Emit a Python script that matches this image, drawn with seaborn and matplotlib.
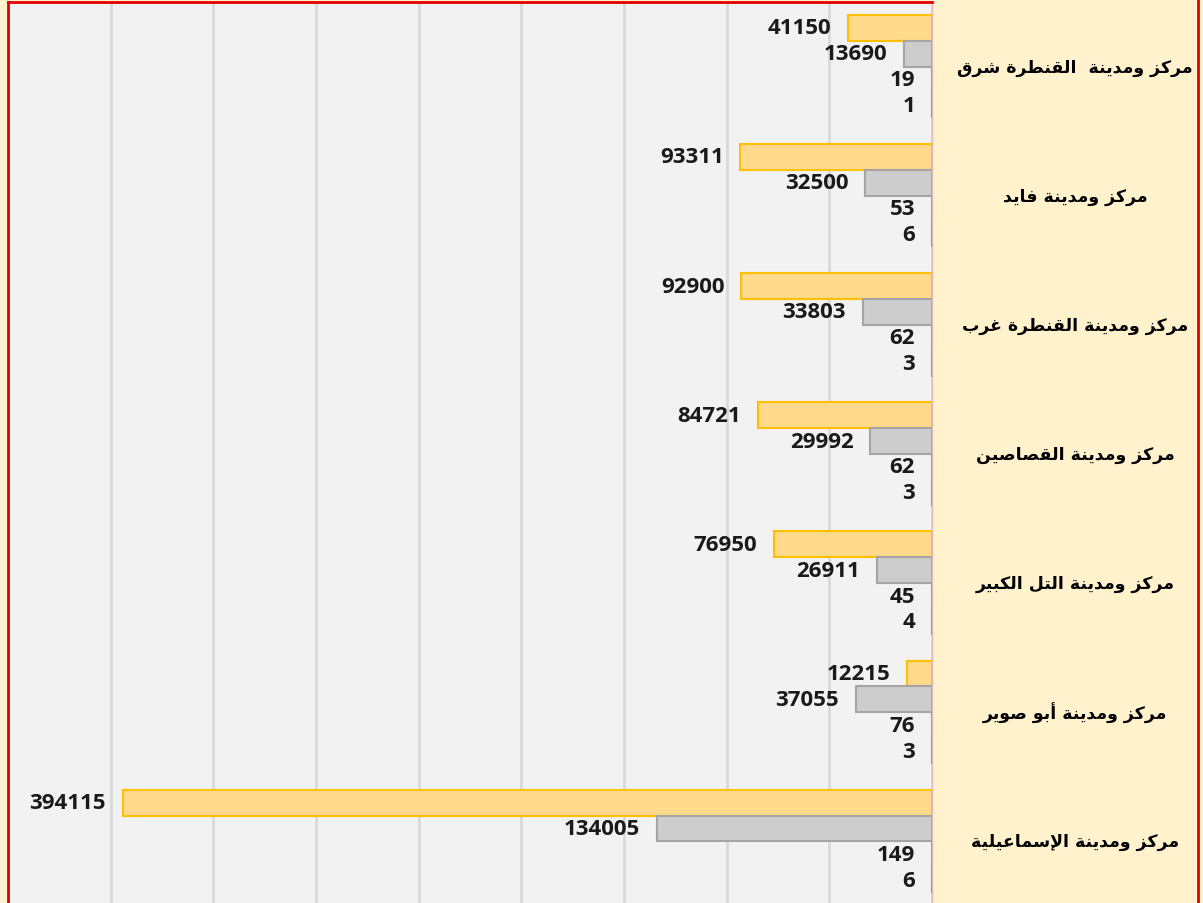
import pandas as pd
import numpy as np
import matplotlib
matplotlib.use("Agg")
import matplotlib.pyplot as plt
from matplotlib.ticker import MultipleLocator
from matplotlib.lines import Line2D
import seaborn as sns

# --------------------------------
# Data
# --------------------------------
districts = [
    "مركز ومدينة  القنطرة شرق",
    "مركز ومدينة فايد",
    "مركز ومدينة القنطرة غرب",
    "مركز ومدينة القصاصين",
    "مركز ومدينة التل الكبير",
    "مركز ومدينة أبو صوير",
    "مركز ومدينة الإسماعيلية",
]
series_names = ["s1", "s2", "s3", "s4"]
s1_values = [41150, 93311, 92900, 84721, 76950, 12215, 394115]
s2_values = [13690, 32500, 33803, 29992, 26911, 37055, 134005]
s3_values = [19, 53, 62, 62, 45, 76, 149]
s4_values = [1, 6, 3, 3, 4, 3, 6]

fill_colors = ["#FFD98C", "#CDCDCD", "#F4B183", "#9DC3E6"]
edge_colors = ["#FFC000", "#A5A5A5", "#ED7D31", "#5B9BD5"]

# --------------------------------
# Minimal Arabic shaping (matplotlib has no shaping / RTL)
# --------------------------------
FORMS = {
    "ا": ("\uFE8D", "\uFE8E", None, None),
    "أ": ("\uFE83", "\uFE84", None, None),
    "إ": ("\uFE87", "\uFE88", None, None),
    "ب": ("\uFE8F", "\uFE90", "\uFE91", "\uFE92"),
    "ة": ("\uFE93", "\uFE94", None, None),
    "ت": ("\uFE95", "\uFE96", "\uFE97", "\uFE98"),
    "د": ("\uFEA9", "\uFEAA", None, None),
    "ر": ("\uFEAD", "\uFEAE", None, None),
    "ز": ("\uFEAF", "\uFEB0", None, None),
    "س": ("\uFEB1", "\uFEB2", "\uFEB3", "\uFEB4"),
    "ش": ("\uFEB5", "\uFEB6", "\uFEB7", "\uFEB8"),
    "ص": ("\uFEB9", "\uFEBA", "\uFEBB", "\uFEBC"),
    "ط": ("\uFEC1", "\uFEC2", "\uFEC3", "\uFEC4"),
    "ع": ("\uFEC9", "\uFECA", "\uFECB", "\uFECC"),
    "غ": ("\uFECD", "\uFECE", "\uFECF", "\uFED0"),
    "ف": ("\uFED1", "\uFED2", "\uFED3", "\uFED4"),
    "ق": ("\uFED5", "\uFED6", "\uFED7", "\uFED8"),
    "ك": ("\uFED9", "\uFEDA", "\uFEDB", "\uFEDC"),
    "ل": ("\uFEDD", "\uFEDE", "\uFEDF", "\uFEE0"),
    "م": ("\uFEE1", "\uFEE2", "\uFEE3", "\uFEE4"),
    "ن": ("\uFEE5", "\uFEE6", "\uFEE7", "\uFEE8"),
    "و": ("\uFEED", "\uFEEE", None, None),
    "ي": ("\uFEF1", "\uFEF2", "\uFEF3", "\uFEF4"),
    "\uFEF9": ("\uFEF9", "\uFEFA", None, None),
    "\uFEF7": ("\uFEF7", "\uFEF8", None, None),
    "\uFEFB": ("\uFEFB", "\uFEFC", None, None),
}


def shape_arabic(text):
    text = text.replace("لإ", "\uFEF9").replace("لأ", "\uFEF7").replace("لا", "\uFEFB")
    out = []
    for i, ch in enumerate(text):
        if ch not in FORMS:
            out.append(ch)
            continue
        prev = text[i - 1] if i > 0 else ""
        nxt = text[i + 1] if i + 1 < len(text) else ""
        join_prev = prev in FORMS and FORMS[prev][2] is not None
        join_next = FORMS[ch][2] is not None and nxt in FORMS
        iso, fin, ini, med = FORMS[ch]
        if join_prev and join_next:
            out.append(med)
        elif join_prev:
            out.append(fin)
        elif join_next:
            out.append(ini)
        else:
            out.append(iso)
    return "".join(out)[::-1]


# --------------------------------
# Long table
# --------------------------------
rows = []
for name, vals in zip(series_names, [s1_values, s2_values, s3_values, s4_values]):
    for d, v in zip(districts, vals):
        rows.append({"district": d, "series": name, "value": v})
df = pd.DataFrame(rows)

# --------------------------------
# Plot
# --------------------------------
sns.set_style("white")
plt.rcParams["font.family"] = ["Open Sans", "DejaVu Sans"]

fig = plt.figure(figsize=(12.03, 9.04), dpi=100)
fig.patch.set_facecolor("#FFF2CC")
ax = fig.add_axes([8 / 1203, -3 / 904, 924 / 1203, 904 / 904])
ax.set_facecolor("#F2F2F2")

sns.barplot(data=df, y="district", x="value", hue="series", orient="h",
            palette=fill_colors, saturation=1, width=0.8, legend=False, ax=ax)

for cont, ec in zip(ax.containers, edge_colors):
    for p in cont.patches:
        p.set_edgecolor(ec)
        p.set_linewidth(1.5)
        ax.annotate(f"{int(round(p.get_width()))}",
                    xy=(p.get_width(), p.get_y() + p.get_height() / 2),
                    xytext=(-12, 0), textcoords="offset points",
                    ha="right", va="center", fontsize=16,
                    fontweight="bold", color="#1A1A1A")

ax.set_xlim(450000, 0)
ax.xaxis.set_major_locator(MultipleLocator(50000))
ax.grid(axis="x", color="#D9D9D9", linewidth=2)
ax.set_axisbelow(True)
ax.tick_params(left=False, bottom=False, labelleft=False, labelbottom=False)
ax.set_xlabel("")
ax.set_ylabel("")

for side in ["left", "top"]:
    ax.spines[side].set_color("#E00000")
    ax.spines[side].set_linewidth(2)
ax.spines["bottom"].set_visible(False)
ax.spines["right"].set_color("#E6B8B7")
ax.spines["right"].set_linewidth(1)

# category labels on the right
for i, d in enumerate(districts):
    ax.text(1.155, i, shape_arabic(d), transform=ax.get_yaxis_transform(),
            ha="center", va="center", fontsize=12.5, fontweight="bold",
            family=["DejaVu Sans"], color="black", clip_on=False)

fig.add_artist(Line2D([1198 / 1203, 1198 / 1203], [0, 1], color="#E00000",
                      linewidth=2, transform=fig.transFigure))

fig.savefig("out.png", dpi=100, facecolor=fig.get_facecolor())
